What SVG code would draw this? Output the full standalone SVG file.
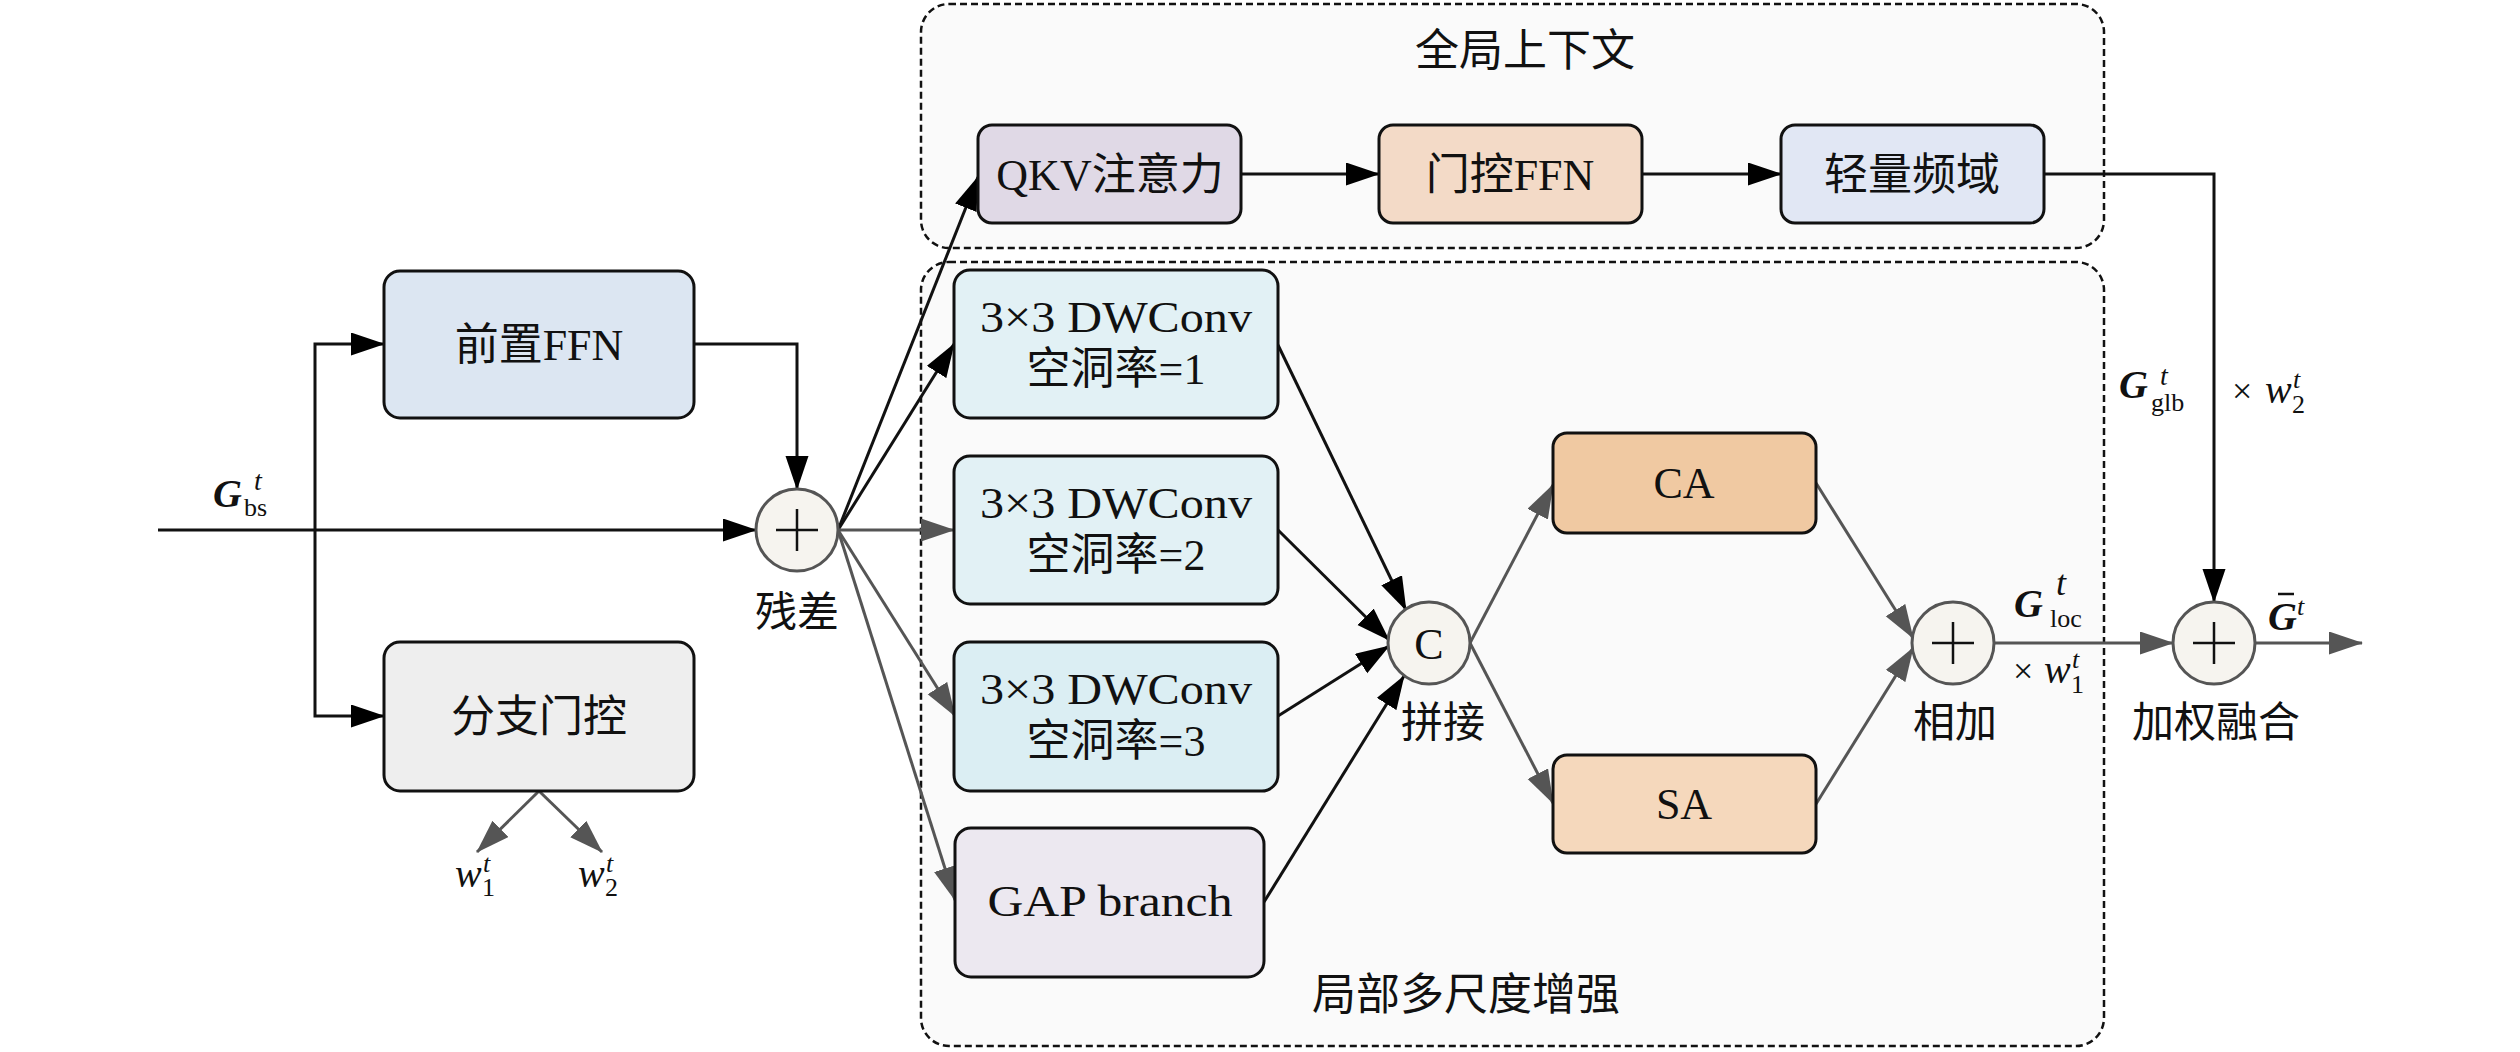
<svg xmlns="http://www.w3.org/2000/svg" width="2520" height="1052" viewBox="0 0 2520 1052">
<style>
.box{stroke:#111;stroke-width:3}
.t{font-family:"Liberation Serif","Noto Sans CJK SC",serif;font-size:44px;fill:#111}
.lbl{font-family:"Liberation Serif","Noto Sans CJK SC",serif;font-size:42px;fill:#111}
.m{font-family:"Liberation Serif",serif;fill:#111}
.gi{font-family:"Liberation Serif",serif;font-weight:bold;font-style:italic;font-size:40px;fill:#111}
.it{font-style:italic}
.circ{fill:#f6f4ef;stroke:#555;stroke-width:3}
.plus{stroke:#111;stroke-width:2.5}
.grp{fill:#fafafa;stroke:#111;stroke-width:2.5;stroke-dasharray:7 4}
.cb{fill:none;stroke:#111;stroke-width:3}
.cg{fill:none;stroke:#555;stroke-width:3}
</style>
<defs>
<marker id="ab" markerUnits="userSpaceOnUse" markerWidth="34" markerHeight="24" refX="33" refY="11.5" orient="auto">
<path d="M0,0 L34,11.5 L0,23 z" fill="#000"/>
</marker>
<marker id="ag" markerUnits="userSpaceOnUse" markerWidth="34" markerHeight="24" refX="33" refY="11.5" orient="auto">
<path d="M0,0 L34,11.5 L0,23 z" fill="#555"/>
</marker>
</defs>
<rect width="2520" height="1052" fill="#fff"/>

<g id="global-group">
<rect class="grp" x="921" y="4" width="1183" height="244" rx="28"/>
<text class="t" x="1525" y="66" text-anchor="middle">全局上下文</text>
</g>
<g id="local-group">
<rect class="grp" x="921" y="262" width="1183" height="784" rx="28"/>
<text class="t" x="1466" y="1010" text-anchor="middle">局部多尺度增强</text>
</g>

<g id="connectors">
<path class="cb" d="M158,530 L756,530" marker-end="url(#ab)"/>
<path class="cb" d="M315,530 L315,344 L384,344" marker-end="url(#ab)"/>
<path class="cb" d="M315,530 L315,716 L384,716" marker-end="url(#ab)"/>
<path class="cb" d="M694,344 L797,344 L797,489" marker-end="url(#ab)"/>
<path class="cg" d="M539,791 L477,852" marker-end="url(#ag)"/>
<path class="cg" d="M539,791 L602,852" marker-end="url(#ag)"/>
<path class="cb" d="M838,530 L978,177" marker-end="url(#ab)"/>
<path class="cb" d="M838,530 L954,344" marker-end="url(#ab)"/>
<path class="cg" d="M838,530 L954,530" marker-end="url(#ag)"/>
<path class="cg" d="M838,530 L955,716" marker-end="url(#ag)"/>
<path class="cg" d="M838,530 L955,900" marker-end="url(#ag)"/>
<path class="cb" d="M1241,174 L1379,174" marker-end="url(#ab)"/>
<path class="cb" d="M1642,174 L1781,174" marker-end="url(#ab)"/>
<path class="cb" d="M2044,174 L2214,174 L2214,602" marker-end="url(#ab)"/>
<path class="cb" d="M1278,345 L1406,610" marker-end="url(#ab)"/>
<path class="cb" d="M1278,530 L1389,640" marker-end="url(#ab)"/>
<path class="cb" d="M1278,716 L1389,646" marker-end="url(#ab)"/>
<path class="cb" d="M1264,902 L1404,676" marker-end="url(#ab)"/>
<path class="cg" d="M1470,643 L1553,485" marker-end="url(#ag)"/>
<path class="cg" d="M1470,643 L1553,803" marker-end="url(#ag)"/>
<path class="cg" d="M1816,483 L1913,638" marker-end="url(#ag)"/>
<path class="cg" d="M1816,804 L1913,648" marker-end="url(#ag)"/>
<path class="cg" d="M1994,643 L2173,643" marker-end="url(#ag)"/>
<path class="cg" d="M2255,643 L2362,643" marker-end="url(#ag)"/>
</g>

<g id="pre-ffn">
<rect class="box" x="384" y="271" width="310" height="147" rx="16" fill="#dce6f2"/>
<text class="t" x="539" y="360" text-anchor="middle">前置FFN</text>
</g>
<g id="branch-gate">
<rect class="box" x="384" y="642" width="310" height="149" rx="16" fill="#eeeeee"/>
<text class="t" x="539" y="732" text-anchor="middle">分支门控</text>
</g>
<g id="residual">
<circle class="circ" cx="797" cy="530" r="41"/>
<path class="plus" d="M776,530 H818 M797,509 V551"/>
<text class="lbl" x="797" y="627" text-anchor="middle">残差</text>
</g>
<g id="qkv">
<rect class="box" x="978" y="125" width="263" height="98" rx="14" fill="#e0d9e6"/>
<text class="t" x="1110" y="190" text-anchor="middle">QKV注意力</text>
</g>
<g id="gated-ffn">
<rect class="box" x="1379" y="125" width="263" height="98" rx="14" fill="#f3dac7"/>
<text class="t" x="1510" y="190" text-anchor="middle">门控FFN</text>
</g>
<g id="light-freq">
<rect class="box" x="1781" y="125" width="263" height="98" rx="14" fill="#e1e7f4"/>
<text class="t" x="1912" y="190" text-anchor="middle">轻量频域</text>
</g>
<g id="dw1">
<rect class="box" x="954" y="270" width="324" height="148" rx="16" fill="#e2f1f5"/>
<text class="t" x="1116" y="332" text-anchor="middle" textLength="272" lengthAdjust="spacingAndGlyphs">3×3 DWConv</text>
<text class="t" x="1116" y="384" text-anchor="middle">空洞率=1</text>
</g>
<g id="dw2">
<rect class="box" x="954" y="456" width="324" height="148" rx="16" fill="#e2f1f5"/>
<text class="t" x="1116" y="518" text-anchor="middle" textLength="272" lengthAdjust="spacingAndGlyphs">3×3 DWConv</text>
<text class="t" x="1116" y="570" text-anchor="middle">空洞率=2</text>
</g>
<g id="dw3">
<rect class="box" x="954" y="642" width="324" height="149" rx="16" fill="#dbeef3"/>
<text class="t" x="1116" y="704" text-anchor="middle" textLength="272" lengthAdjust="spacingAndGlyphs">3×3 DWConv</text>
<text class="t" x="1116" y="756" text-anchor="middle">空洞率=3</text>
</g>
<g id="gap">
<rect class="box" x="955" y="828" width="309" height="149" rx="16" fill="#ece8f0"/>
<text class="t" x="1110" y="916" text-anchor="middle" textLength="245" lengthAdjust="spacingAndGlyphs">GAP branch</text>
</g>
<g id="concat">
<circle class="circ" cx="1429" cy="643" r="41"/>
<text class="t" x="1429" y="659" text-anchor="middle">C</text>
<text class="lbl" x="1443" y="737" text-anchor="middle">拼接</text>
</g>
<g id="ca">
<rect class="box" x="1553" y="433" width="263" height="100" rx="14" fill="#f0c9a2"/>
<text class="t" x="1684" y="498" text-anchor="middle">CA</text>
</g>
<g id="sa">
<rect class="box" x="1553" y="755" width="263" height="98" rx="14" fill="#f5d8bc"/>
<text class="t" x="1684" y="819" text-anchor="middle">SA</text>
</g>
<g id="add">
<circle class="circ" cx="1953" cy="643" r="41"/>
<path class="plus" d="M1932,643 H1974 M1953,622 V664"/>
<text class="lbl" x="1955" y="737" text-anchor="middle">相加</text>
</g>
<g id="fusion">
<circle class="circ" cx="2214" cy="643" r="41"/>
<path class="plus" d="M2193,643 H2235 M2214,622 V664"/>
<text class="lbl" x="2216" y="737" text-anchor="middle">加权融合</text>
</g>

<g id="labels">
<text class="gi" x="213" y="507">G</text>
<text class="m it" x="254" y="490" font-size="28">t</text>
<text class="m" x="244" y="516" font-size="26">bs</text>

<text class="m it" x="455" y="887" font-size="40">w</text>
<text class="m" x="482" y="896" font-size="26">1</text>
<text class="m it" x="483" y="872" font-size="26">t</text>
<text class="m it" x="578" y="887" font-size="40">w</text>
<text class="m" x="605" y="896" font-size="26">2</text>
<text class="m it" x="606" y="872" font-size="26">t</text>

<text class="gi" x="2119" y="398">G</text>
<text class="m it" x="2160" y="385" font-size="28">t</text>
<text class="m" x="2151" y="411" font-size="26">glb</text>
<text class="m" x="2232" y="403" font-size="36">×</text>
<text class="m it" x="2265" y="403" font-size="40">w</text>
<text class="m" x="2292" y="413" font-size="26">2</text>
<text class="m it" x="2293" y="388" font-size="26">t</text>

<text class="gi" x="2014" y="617">G</text>
<text class="m it" x="2056" y="595" font-size="36">t</text>
<text class="m" x="2050" y="627" font-size="26">loc</text>
<text class="m" x="2013" y="683" font-size="36">×</text>
<text class="m it" x="2044" y="683" font-size="40">w</text>
<text class="m" x="2071" y="693" font-size="26">1</text>
<text class="m it" x="2072" y="668" font-size="26">t</text>

<text class="gi" x="2268" y="630">G</text>
<path d="M2278,594 H2294" stroke="#111" stroke-width="2.5"/>
<text class="m it" x="2297" y="615" font-size="26">t</text>
</g>
</svg>
